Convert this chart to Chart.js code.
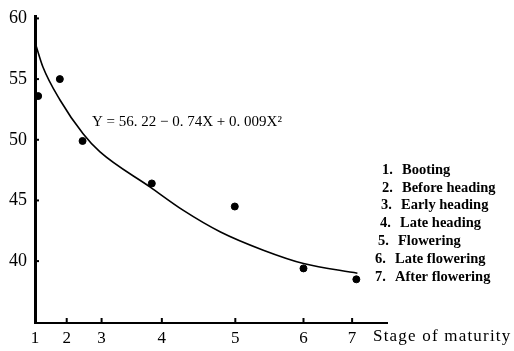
<!DOCTYPE html>
<html>
<head>
<meta charset="utf-8">
<script src="https://cdn.jsdelivr.net/npm/chart.js@4.4.1/dist/chart.umd.min.js"></script>
<style>
  html, body { margin: 0; padding: 0; background: #fff; }
</style>
</head>
<body>
<canvas id="chart" width="514" height="351"></canvas>
<script>
// stage positions on the x scale (uneven spacing, as printed)
const stageLabels = ['1', '2', '3', '4', '5', '6', '7']
const stagePositions = [0, 6.0, 12.6, 24.0, 37.9, 50.8, 60.0]
const stageNames = ['Booting', 'Before heading', 'Early heading', 'Late heading', 'Flowering', 'Late flowering', 'After flowering']

// observed points
const obsX = [0.6, 4.7, 9.0, 22.1, 37.8, 50.8, 60.8]
const obsY = [53.6, 55.0, 49.9, 46.4, 44.5, 39.4, 38.5]

// fitted curve
const fitX = [0.1, 1.5, 4.7, 9.1, 12.3, 21.8, 28.0, 35.1, 43.2, 50.8, 61.0]
const fitY = [57.9, 56.0, 53.3, 50.5, 49.0, 46.1, 44.2, 42.4, 40.9, 39.8, 39.0]

const yTicks = [40, 45, 50, 55, 60]
const equation = 'Y = 56. 22 \u2212 0. 74X + 0. 009X\u00b2'
const xTitle = 'Stage of maturity'

const serif = "'Liberation Serif', 'DejaVu Serif', serif"

const extras = {
  id: 'extras',
  afterDraw(chart) {
    const ctx = chart.ctx
    const x = chart.scales.x
    const y = chart.scales.y
    ctx.save()
    ctx.strokeStyle = '#000'
    ctx.lineWidth = 2
    stagePositions.slice(1).forEach(p => {
      const px = x.getPixelForValue(p)
      ctx.beginPath()
      ctx.moveTo(px, y.bottom)
      ctx.lineTo(px, y.bottom - 5)
      ctx.stroke()
    })
    yTicks.forEach(v => {
      const py = y.getPixelForValue(v)
      ctx.beginPath()
      ctx.moveTo(x.left, py)
      ctx.lineTo(x.left + 4, py)
      ctx.stroke()
    })

    ctx.fillStyle = '#000'
    ctx.textBaseline = 'middle'
    ctx.font = '15px ' + serif
    ctx.fillText(equation, 92, 122)

    ctx.font = '17px ' + serif
    ctx.letterSpacing = '1.2px'
    ctx.fillText(xTitle, 373, 337)
    ctx.letterSpacing = '0px'

    ctx.font = 'bold 14.5px ' + serif
    const indent = [382, 382, 381, 380, 378, 375, 375]
    stageNames.forEach((name, i) => {
      const ty = 170 + i * 17.8
      ctx.fillText((i + 1) + '.', indent[i], ty)
      ctx.fillText(name, indent[i] + 20, ty)
    })
    ctx.restore()
  }
}

new Chart(document.getElementById('chart'), {
  type: 'scatter',
  data: {
    datasets: [
      {
        label: 'Observed',
        data: obsX.map((v, i) => ({ x: v, y: obsY[i] })),
        backgroundColor: '#000',
        borderColor: '#000',
        pointRadius: 3.5
      },
      {
        label: 'Fit',
        data: fitX.map((v, i) => ({ x: v, y: fitY[i] })),
        showLine: true,
        borderColor: '#000',
        borderWidth: 1.6,
        pointRadius: 0,
        cubicInterpolationMode: 'monotone'
      }
    ]
  },
  options: {
    responsive: false,
    animation: false,
    layout: { padding: { top: 16, right: 127, left: 0, bottom: 0 } },
    plugins: { legend: { display: false }, tooltip: { enabled: false } },
    scales: {
      x: {
        type: 'linear',
        min: 0,
        max: 66.6,
        grid: { display: false },
        border: { display: true, color: '#000', width: 2 },
        afterBuildTicks: scale => { scale.ticks = stagePositions.map(v => ({ value: v })) },
        afterFit: scale => { scale.height = 28 },
        ticks: {
          color: '#000',
          padding: -3,
          maxRotation: 0,
          autoSkip: false,
          font: { family: serif, size: 17 },
          callback: (v, i) => stageLabels[i]
        }
      },
      y: {
        min: 34.9,
        max: 60.2,
        grid: { display: false },
        border: { display: true, color: '#000', width: 3 },
        afterBuildTicks: scale => { scale.ticks = yTicks.map(v => ({ value: v })) },
        afterFit: scale => { scale.width = 35 },
        ticks: {
          color: '#000',
          padding: 0,
          font: { family: serif, size: 18 }
        }
      }
    }
  },
  plugins: [extras]
})
</script>
</body>
</html>
